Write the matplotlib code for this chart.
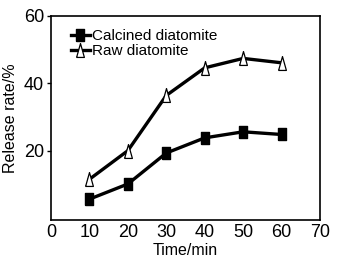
import matplotlib.pyplot as plt

plt.rcParams['font.family'] = ['Liberation Sans', 'DejaVu Sans']

time_min = [10, 20, 30, 40, 50, 60]
calcined = [5.6, 10.1, 19.3, 23.8, 25.6, 24.8]
raw = [11.5, 20.0, 36.4, 44.6, 47.4, 46.1]

# tall narrow markers like in the original figure
rect = [(-0.33, -0.5), (0.33, -0.5), (0.33, 0.5), (-0.33, 0.5), (-0.33, -0.5)]
tri = [(-0.28, -0.5), (0.28, -0.5), (0.0, 0.5), (-0.28, -0.5)]

fig = plt.figure(figsize=(3.37, 2.6), dpi=100)
ax = fig.add_axes([51/337, 40/260, 269/337, 204/260])

ax.plot(time_min, calcined, color='black', lw=2.4, marker=rect, ms=9,
        mfc='black', mec='black', label='Calcined diatomite')
ax.plot(time_min, raw, color='black', lw=2.4, marker=tri, ms=10,
        mfc='white', mec='black', mew=0.9, label='Raw diatomite')

ax.set_xlim(0, 70)
ax.set_ylim(-0.6, 60)
ax.set_xticks(range(0, 71, 10))
ax.set_yticks([20, 40, 60])
ax.tick_params(axis='both', labelsize=13, direction='out', width=1)
ax.tick_params(axis='x', length=0, pad=3)
ax.tick_params(axis='y', length=3, pad=2)
for s in ax.spines.values():
    s.set_linewidth(1.2)

ax.set_xlabel('Time/min', fontsize=11.5, labelpad=1)
ax.set_ylabel('Release rate/%', fontsize=11.5, labelpad=4)

ax.legend(loc='upper left', frameon=False, fontsize=11, handlelength=1.3,
          handletextpad=0.1, borderaxespad=0.0, labelspacing=0.05,
          bbox_to_anchor=(0.05, 0.965))

fig.savefig('out.png', dpi=100)
